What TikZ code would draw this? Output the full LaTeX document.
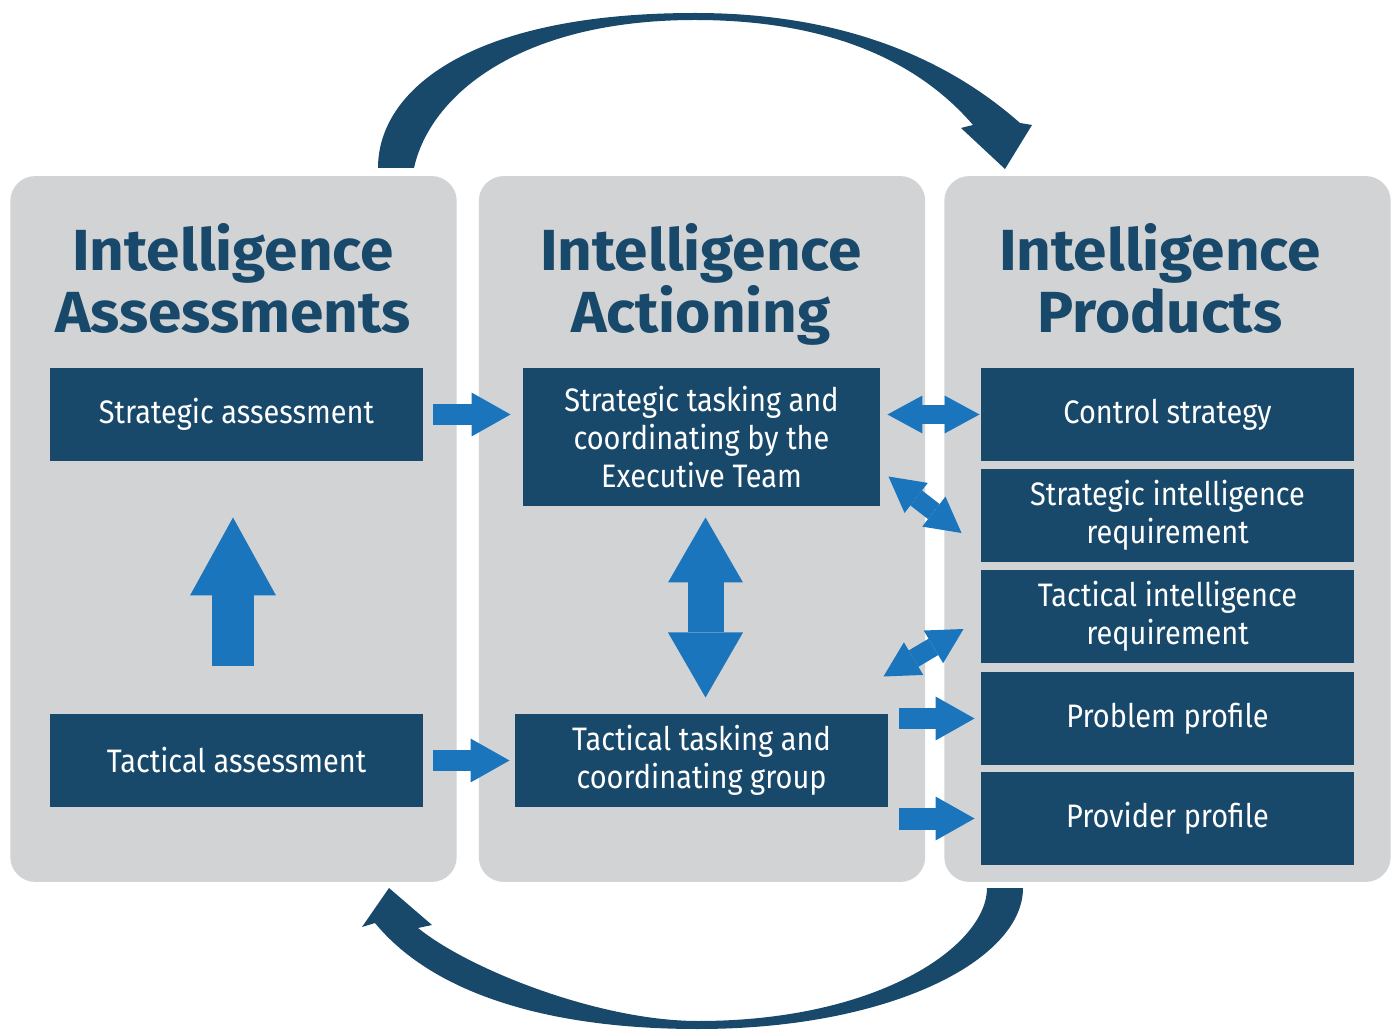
\documentclass[tikz,border=0pt]{standalone}
\usepackage{fontspec}
\setmainfont{Fira Sans}[FakeStretch=0.89]
\newfontfamily\headfont{Fira Sans}[FakeStretch=1.04]
\usetikzlibrary{arrows.meta, calc}

\definecolor{navy}{HTML}{18486A}
\definecolor{panelgray}{HTML}{D1D3D4}
\definecolor{arrowblue}{HTML}{1B75BC}

\tikzset{
    panel/.style={fill=panelgray, rounded corners=0.5cm, minimum width=8.93cm, minimum height=14.12cm},
    box/.style={fill=navy, draw=panelgray, line width=0.6pt, text=white, align=center, inner sep=0pt,
        minimum width=7.5cm, minimum height=1.9cm, font=\fontsize{18.5}{21.5}\selectfont},
    heading/.style={text=navy, align=center, text depth=0pt, font=\headfont\bfseries\fontsize{33}{35.5}\selectfont},
    flowarrow/.style={arrowblue, line width=0.44cm, -{Triangle[length=0.78cm, width=0.88cm, line width=0pt]}},
    bothway/.style={arrowblue, line width=0.38cm,
        {Triangle[length=0.7cm, width=0.76cm, line width=0pt]}-{Triangle[length=0.7cm, width=0.76cm, line width=0pt]}}
}

\begin{document}
\begin{tikzpicture}[x=0.02cm, y=-0.02cm]
    \useasboundingbox (0, 0) rectangle (1397, 1030);

    % Panels
    \node[panel] at (233.5, 529) (pa) {};
    \node[panel] at (702, 529) (pm) {};
    \node[panel] at (1167.5, 529) (pr) {};

    \node[heading] at (233, 278) (ha) {Intelligence\\Assessments};
    \node[heading] at (701, 278) (hm) {Intelligence\\Actioning};
    \node[heading] at (1160, 278) (hp) {Intelligence\\Products};

    % Boxes
    \node[box] at (236.5, 414.5) (sa) {Strategic assessment};
    \node[box] at (236.5, 760.5) (ta) {Tactical assessment};
    \node[box, minimum width=7.18cm, minimum height=2.8cm] at (701.5, 437) (st)
        {Strategic tasking and\\coordinating by the\\Executive Team};
    \node[box] at (701.5, 760.5) (tt) {Tactical tasking and\\coordinating group};

    \node[box] at (1167.5, 414.5) (cs) {Control strategy};
    \node[box] at (1167.5, 515.5) (si) {Strategic intelligence\\requirement};
    \node[box] at (1167.5, 616.5) (ti) {Tactical intelligence\\requirement};
    \node[box] at (1167.5, 718.5) (pp) {Problem profile};
    \node[box] at (1167.5, 818.5) (pv) {Provider profile};

    % Arrows
    \draw[flowarrow, shorten <=0.18cm, shorten >=0.22cm] (sa.east) -- (sa.east -| st.west);
    \draw[flowarrow, shorten <=0.18cm, shorten >=0.08cm] (ta.east) -- (tt.west);
    \draw[arrowblue, line width=0.84cm, -{Triangle[length=1.56cm, width=1.72cm, line width=0pt]},
        shorten <=0.92cm, shorten >=1.1cm] ($(ta.north)+(-3.5,0)$) -- ($(sa.south)+(-3.5,0)$);
    \draw[arrowblue, line width=0.72cm,
        {Triangle[length=1.3cm, width=1.5cm, line width=0pt]}-{Triangle[length=1.3cm, width=1.5cm, line width=0pt]},
        shorten <=0.2cm, shorten >=0.3cm] ($(st.south)+(4,0)$) -- ($(tt.north)+(4,0)$);
    \draw[bothway, shorten <=0.12cm] (st.east |- cs.west) -- (cs.west);
    \draw[bothway] ($(st.south east)+(7,-31)$) -- ($(si.west)+(-18,17.5)$);
    \draw[bothway] ($(ti.west)+(-16,12.5)$) -- ($(tt.north east)+(-6,-36)$);
    \draw[flowarrow, shorten <=0.2cm, shorten >=0.1cm] (tt.east |- pp.west) -- (pp.west);
    \draw[flowarrow, shorten <=0.2cm, shorten >=0.1cm] (tt.east |- pv.west) -- (pv.west);

    % Cycle arcs
    \fill[navy] (378, 168) .. controls (378, 90) and (470, 13) .. (695, 13)
        .. controls (860, 13) and (960, 70) .. (1020, 123) -- (1032, 125) -- (1005, 169)
        -- (961, 128) -- (973, 125) .. controls (930, 75) and (850, 20) .. (695, 20)
        .. controls (520, 20) and (430, 95) .. (414, 168) -- cycle;
    \fill[navy] (1023, 888) .. controls (1023, 960) and (890, 1029) .. (698, 1029)
        .. controls (540, 1029) and (430, 990) .. (375, 923) -- (362, 927) -- (389, 888)
        -- (432, 925) -- (418, 928) .. controls (470, 970) and (600, 1021) .. (698, 1021)
        .. controls (880, 1021) and (987, 945) .. (987, 888) -- cycle;
\end{tikzpicture}
\end{document}
